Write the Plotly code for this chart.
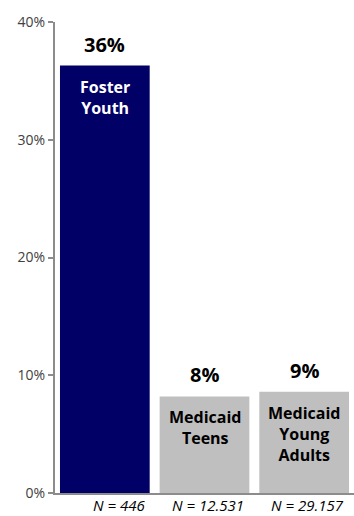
import plotly.graph_objects as go

categories = ["Foster<br>Youth", "Medicaid<br>Teens", "Medicaid<br>Young<br>Adults"]
values = [36.3, 8.2, 8.6]
value_labels = ["36%", "8%", "9%"]
n_labels = ["N = 446", "N = 12.531", "N = 29.157"]
colors = ["#000066", "#BFBFBF", "#BFBFBF"]
text_colors = ["#FFFFFF", "#000000", "#000000"]
y_ticks = [0, 10, 20, 30, 40]
y_tick_labels = ["0%", "10%", "20%", "30%", "40%"]

x = list(range(len(categories)))
bar_width = 0.9

fig = go.Figure(go.Bar(
    x=x, y=values, marker=dict(color=colors, line=dict(width=0)),
    width=bar_width, hoverinfo="skip",
))

annotations = []
for i, (v, lab, cat, tc, n) in enumerate(zip(values, value_labels, categories, text_colors, n_labels)):
    annotations.append(dict(x=i, y=v, xref="x", yref="y", text="<b>%s</b>" % lab,
                            showarrow=False, yanchor="bottom", yshift=6,
                            font=dict(family="Open Sans", size=20, color="#000000")))
    annotations.append(dict(x=i, y=v, xref="x", yref="y", text="<b>%s</b>" % cat,
                            showarrow=False, yanchor="top", yshift=-8,
                            font=dict(family="Open Sans", size=16, color=tc)))
    annotations.append(dict(x=i + bar_width / 2, y=0, xref="x", yref="paper",
                            text="<i>%s</i>" % n, showarrow=False,
                            xanchor="right", yanchor="middle", xshift=-3, yshift=-12,
                            font=dict(family="Open Sans", size=15, color="#000000")))

fig.update_layout(
    width=354, height=516,
    margin=dict(l=55, r=0, t=22, b=23),
    plot_bgcolor="white", paper_bgcolor="white",
    showlegend=False, bargap=0.1,
    annotations=annotations,
    font=dict(family="Open Sans", color="#404040"),
    xaxis=dict(range=[-0.5, 2.5], tickmode="array", tickvals=x,
               showticklabels=False, showline=True,
               linecolor="#8C8C8C", linewidth=2, ticks="", showgrid=False,
               zeroline=False),
    yaxis=dict(range=[0, 40], tickmode="array", tickvals=y_ticks,
               ticktext=y_tick_labels, tickfont=dict(size=14, color="#404040"),
               showline=True, linecolor="#8C8C8C", linewidth=2, ticks="outside",
               ticklen=5, tickcolor="#8C8C8C", tickwidth=2, showgrid=False,
               zeroline=False),
)

fig.write_html("out.html", config={"displayModeBar": False},
               post_script="document.body.style.margin='0';document.body.style.overflow='hidden';")
